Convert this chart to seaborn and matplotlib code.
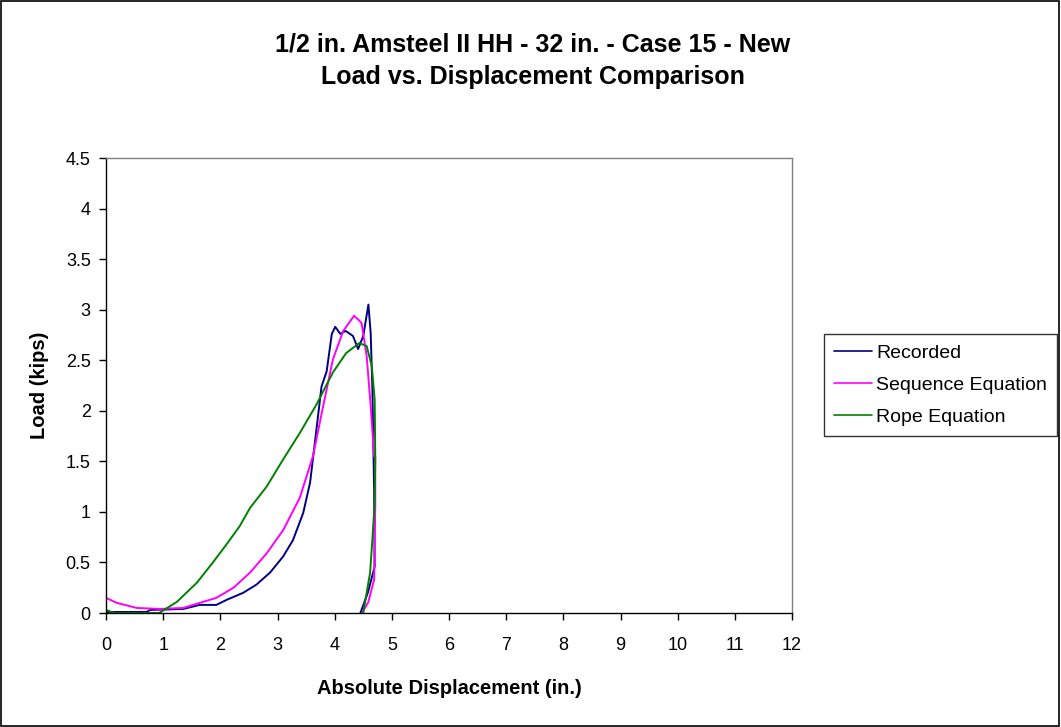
#importing Libraries
import pandas as pd
import seaborn as sns
import matplotlib.pyplot as plt
from matplotlib.patches import Rectangle
from matplotlib.ticker import MultipleLocator, FuncFormatter

# Data (displacement in., load kips)
# curves are listed in plotting order (unload start -> peak -> back to 0)
rec_x = [4.45, 4.58, 4.70, 4.69, 4.66, 4.63, 4.59, 4.50, 4.41, 4.32, 4.19, 4.10, 4.01, 3.95,
         3.86, 3.77, 3.68, 3.57, 3.45, 3.27, 3.10, 2.87, 2.63, 2.40, 2.11, 1.93, 1.64, 1.35,
         0.77, 0.71, 0.0]
rec_y = [0.0, 0.2, 0.46, 1.22, 2.21, 2.77, 3.05, 2.74, 2.61, 2.74, 2.79, 2.76, 2.83, 2.76,
         2.39, 2.24, 1.81, 1.29, 0.99, 0.72, 0.56, 0.40, 0.28, 0.20, 0.13, 0.08, 0.08, 0.04,
         0.03, 0.01, 0.01]

seq_x = [4.48, 4.59, 4.69, 4.71, 4.71, 4.69, 4.63, 4.56, 4.47, 4.34, 4.15, 3.97, 3.80, 3.62,
         3.39, 3.10, 2.81, 2.52, 2.23, 1.93, 1.64, 1.35, 0.94, 0.54, 0.19, 0.0]
seq_y = [0.0, 0.11, 0.33, 1.06, 1.55, 1.55, 2.05, 2.54, 2.87, 2.94, 2.79, 2.51, 2.05, 1.55,
         1.14, 0.82, 0.59, 0.40, 0.25, 0.15, 0.10, 0.05, 0.04, 0.05, 0.10, 0.15]

rope_x = [4.50, 4.56, 4.62, 4.66, 4.70, 4.71, 4.70, 4.65, 4.56, 4.43, 4.20, 3.97, 3.68, 3.39,
          3.10, 2.81, 2.52, 2.34, 2.11, 1.87, 1.59, 1.24, 0.93, 0.15, 0.0]
rope_y = [0.0, 0.20, 0.40, 0.73, 1.09, 1.55, 2.11, 2.44, 2.64, 2.67, 2.57, 2.38, 2.06, 1.78,
          1.52, 1.25, 1.04, 0.86, 0.68, 0.50, 0.30, 0.11, 0.0, 0.0, 0.03]

series = ['Recorded', 'Sequence Equation', 'Rope Equation']
colors = ['#000080', '#FF00FF', '#008000']

sns.set_style("white")
plt.rcParams['font.family'] = ['Liberation Sans', 'DejaVu Sans']
plt.rcParams['text.color'] = 'black'
plt.rcParams['axes.labelcolor'] = 'black'
plt.rcParams['xtick.color'] = 'black'
plt.rcParams['ytick.color'] = 'black'

fig = plt.figure(figsize=(10.61, 7.27), dpi=100)
ax = fig.add_axes([106/1061, 1-613/727, (792-106)/1061, (613-158)/727])

for name, xs, ys, c in zip(series, [rec_x, seq_x, rope_x], [rec_y, seq_y, rope_y], colors):
    df = pd.DataFrame({'x': xs, 'y': ys})
    sns.lineplot(data=df, x='x', y='y', sort=False, estimator=None, color=c,
                 linewidth=1.4, label=name, ax=ax)

ax.set_xlim(0, 12)
ax.set_ylim(0, 4.5)
ax.xaxis.set_major_locator(MultipleLocator(1))
ax.yaxis.set_major_locator(MultipleLocator(0.5))
ax.yaxis.set_major_formatter(FuncFormatter(lambda v, p: '{:g}'.format(v)))
ax.tick_params(axis='both', direction='out', length=5, width=1, color='black',
               labelsize=13, bottom=True, left=True)
ax.tick_params(axis='x', pad=12)
ax.tick_params(axis='y', pad=6)
for s in ['left', 'bottom']:
    ax.spines[s].set_color('black')
    ax.spines[s].set_linewidth(1)
for s in ['top', 'right']:
    ax.spines[s].set_color('#808080')
    ax.spines[s].set_linewidth(1)

ax.set_xlabel('Absolute Displacement (in.)', fontsize=14.5, fontweight='bold', labelpad=18)
ax.set_ylabel('Load (kips)', fontsize=14.5, fontweight='bold', labelpad=12)

fig.text(533/1061, 1-61/727,
         '1/2 in. Amsteel II HH - 32 in. - Case 15 - New\nLoad vs. Displacement Comparison',
         ha='center', va='center', fontsize=18, fontweight='bold', linespacing=1.45)

ax.get_legend().remove()
handles, labels = ax.get_legend_handles_labels()
leg = fig.legend(handles, labels, loc='center left', bbox_to_anchor=(824/1061, 1-385/727),
                 frameon=True, fancybox=False, edgecolor='black', fontsize=14,
                 handlelength=1.95, handletextpad=0.25, borderpad=0.5, labelspacing=0.75,
                 borderaxespad=0)
leg.get_frame().set_linewidth(1)
for l in leg.get_lines():
    l.set_linewidth(1.2)

# outer chart border
fig.patches.append(Rectangle((0.001, 0.001), 0.997, 0.997, transform=fig.transFigure,
                             fill=False, edgecolor='black', linewidth=1.2))

fig.savefig('out.png', dpi=100)
